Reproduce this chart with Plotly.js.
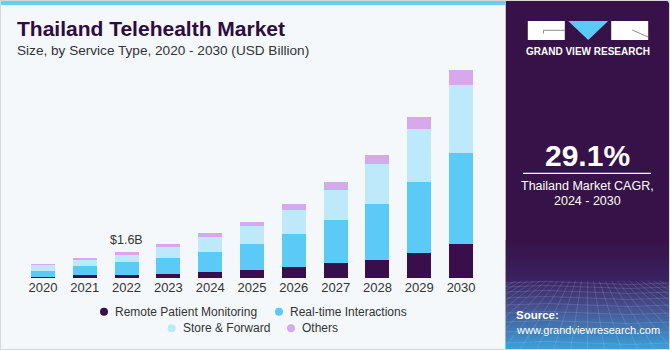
<!DOCTYPE html>
<html>
<head>
<meta charset="utf-8">
<script src="https://cdn.plot.ly/plotly-3.0.1.min.js"></script>
<style>html,body{margin:0;padding:0;background:#f4f8fb;}#chart{width:670px;height:350px;}</style>
</head>
<body>
<div id="chart"></div>
<script>
// ---- data (USD Billion) ----
const years = ['2020','2021','2022','2023','2024','2025','2026','2027','2028','2029','2030'];
const seriesNames = ['Remote Patient Monitoring','Real-time Interactions','Store & Forward','Others'];
const remotePatient = [0.09,0.19,0.19,0.27,0.37,0.51,0.68,0.92,1.12,1.52,2.06];
const realTime      = [0.34,0.54,0.78,0.92,1.23,1.55,2.01,2.57,3.34,4.32,5.51];
const storeForward  = [0.34,0.38,0.44,0.71,0.89,1.10,1.45,1.87,2.46,3.18,4.11];
const others        = [0.08,0.10,0.18,0.18,0.26,0.26,0.34,0.48,0.56,0.71,0.91];
const calloutYear = '2022';
const calloutText = '$1.6B';
const cagrText = '29.1%';

// ---- geometry helpers (pixel -> paper) ----
const W=670,H=350,ML=22,MR=188,MT=47,MB=72;
const PW=W-ML-MR, PH=H-MT-MB;
const PX=x=>(x-ML)/PW, PY=y=>(H-MB-y)/PH;

const colors=['#380f4a','#5bcaf6','#bde9fa','#d5a9eb'];
const vals=[remotePatient,realTime,storeForward,others];
const FONT='"Liberation Sans", Arial, sans-serif';

const traces=vals.map((v,i)=>({
  type:'bar', x:years, y:v, name:seriesNames[i],
  marker:{color:colors[i], line:{width:0}},
  showlegend:false, hoverinfo:'skip'
}));

// ---- right panel as svg image ----
let grid='';
[283,287,292,298,305,313,322,332,343].forEach(y=>{
  grid+=`<path d="M0,${y} Q40,${y-3} 82,${y} T165,${y}" fill="none" stroke="rgba(200,220,255,0.28)" stroke-width="0.6"/>`;
});
for(let k=-12;k<=12;k++){
  grid+=`<line x1="${82+k*6}" y1="281" x2="${82+k*17}" y2="350" stroke="rgba(200,220,255,0.28)" stroke-width="0.6"/>`;
}
const svg=`<svg xmlns="http://www.w3.org/2000/svg" width="165" height="350" viewBox="0 0 165 350" preserveAspectRatio="none">
<defs><linearGradient id="g" x1="0" y1="0" x2="0" y2="1">
<stop offset="0" stop-color="#371248"/><stop offset="0.35" stop-color="#3a2160"/>
<stop offset="0.62" stop-color="#46528f"/><stop offset="1" stop-color="#3aa3de"/></linearGradient></defs>
<path d="M0,0 H158 Q164,0 164,6 V350 H0 Z" fill="#371248"/>
<rect x="0" y="240" width="164" height="110" fill="url(#g)"/>
${grid}
<rect x="22.3" y="21" width="37" height="19" fill="#ffffff"/>
<path d="M38,33.5 V30.3 H59.3" fill="none" stroke="#8a7a96" stroke-width="0.9"/>
<path d="M62.7,21 H102.7 L82.7,40 Z" fill="#5bcaf6"/>
<rect x="105.7" y="21" width="37" height="19" fill="#ffffff"/>
<path d="M126.7,30 L142.7,37" fill="none" stroke="#8a7a96" stroke-width="0.9"/>
</svg>`;
const svgURI='data:image/svg+xml;charset=utf-8,'+encodeURIComponent(svg);

const shapes=[
  {type:'rect',xref:'paper',yref:'paper',x0:PX(0),x1:PX(505.5),y0:PY(5),y1:PY(0.5),fillcolor:'#6ccbf2',line:{width:0},layer:'below'},
  {type:'line',xref:'paper',yref:'paper',x0:PX(523),x1:PX(651),y0:PY(173.3),y1:PY(173.3),line:{color:'#ffffff',width:1.3}},
  {type:'rect',xref:'paper',yref:'paper',x0:PX(0.5),x1:PX(669.5),y0:PY(349.5),y1:PY(0.5),line:{color:'#d4d8dc',width:1},fillcolor:'rgba(0,0,0,0)'}
];
const annotations=[];
function txt(t,x,y,size,color,anchor,bold){
  annotations.push({xref:'paper',yref:'paper',x:PX(x),y:PY(y),text:bold?'<b>'+t+'</b>':t,showarrow:false,
    xanchor:anchor,yanchor:'middle',font:{family:FONT,size:size,color:color}});
}
// titles
txt('Thailand Telehealth Market',15,29,21,'#2e0b40','left',true);
txt('Size, by Service Type, 2020 - 2030 (USD Billion)',15,50,13.6,'#333333','left',false);
// legend (manual, two centered rows)
const legPos=[[104,311.7],[279,311.7],[171.7,328.3],[291,328.3]];
legPos.forEach((p,i)=>{
  shapes.push({type:'circle',xref:'paper',yref:'paper',x0:PX(p[0]-4),x1:PX(p[0]+4),y0:PY(p[1]+4),y1:PY(p[1]-4),fillcolor:colors[i],line:{width:0}});
  txt(seriesNames[i],p[0]+9,p[1],12,'#333333','left',false);
});
// callout (category index position on the x axis)
const idx=years.indexOf(calloutYear);
const tot=vals.reduce((s,v)=>s+v[idx],0);
annotations.push({x:idx,y:tot,xref:'x',yref:'y',text:calloutText,showarrow:false,yanchor:'bottom',yshift:3,
  font:{family:FONT,size:12.5,color:'#333333'}});
// right panel text
txt('GRAND VIEW RESEARCH',587.5,51.7,10,'#ffffff','center',true);
txt(cagrText,587.5,155,30,'#ffffff','center',true);
txt('Thailand Market CAGR,',587.5,186,12.5,'#ffffff','center',false);
txt('2024 - 2030',587.5,200.5,12.5,'#ffffff','center',false);
txt('Source:',514,315,11.5,'#ffffff','left',true);
txt('www.grandviewresearch.com',514,329.5,11,'#ffffff','left',false);

const layout={
  width:W,height:H,margin:{l:ML,r:MR,t:MT,b:MB,pad:0},
  paper_bgcolor:'#f4f8fb',plot_bgcolor:'rgba(0,0,0,0)',
  barmode:'stack',bargap:0.427,showlegend:false,
  font:{family:FONT},
  xaxis:{type:'category',range:[-0.5,years.length-0.5],autorange:false,showgrid:false,zeroline:false,showline:false,ticks:'',
    tickfont:{family:FONT,size:13,color:'#333333'},fixedrange:true},
  yaxis:{range:[0,14],autorange:false,showgrid:false,zeroline:false,showline:false,showticklabels:false,ticks:'',fixedrange:true},
  shapes:shapes,annotations:annotations,
  images:[{source:svgURI,xref:'paper',yref:'paper',x:PX(505.5),y:PY(0),sizex:165/PW,sizey:350/PH,
    xanchor:'left',yanchor:'top',sizing:'stretch',layer:'below'}]
};
Plotly.newPlot('chart',traces,layout,{displayModeBar:false,staticPlot:true});
</script>
</body>
</html>
